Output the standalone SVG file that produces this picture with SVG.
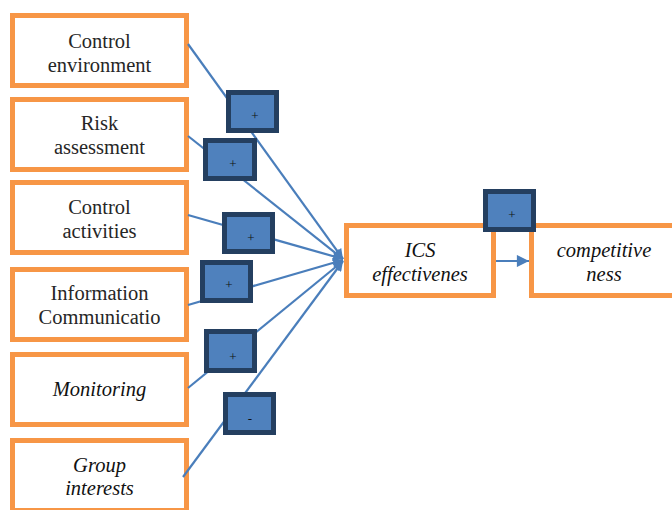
<svg xmlns="http://www.w3.org/2000/svg" width="672" height="510" viewBox="0 0 672 510" font-family="Liberation Serif, Times New Roman, DejaVu Serif, serif">
<defs>
<style>
.node{fill:#ffffff;stroke:#f79646;stroke-width:5}
.t{font-size:20.5px;fill:#262626;text-anchor:middle}
.i{font-style:italic;fill:#111111}
.edge{stroke:#4a7ebb;stroke-width:2.2;fill:none}
.sign rect{fill:#4f81bd;stroke:#243f60;stroke-width:5}
.sign text{font-size:13px;fill:#111;text-anchor:middle}
</style>
<marker id="ah" viewBox="0 0 10 10" refX="10" refY="5" markerWidth="5" markerHeight="4.5" markerUnits="strokeWidth" orient="auto">
<path d="M0,0 L10,5 L0,10 z" fill="#4a7ebb"/>
</marker>
<marker id="ah2" viewBox="0 0 10 10" refX="10" refY="5" markerWidth="6" markerHeight="5.5" markerUnits="strokeWidth" orient="auto">
<path d="M0,0 L10,5 L0,10 z" fill="#4a7ebb"/>
</marker>
</defs>
<rect width="672" height="510" fill="#ffffff"/>

<g id="n1"><rect class="node" x="12.5" y="15.5" width="174" height="70"/><text class="t" x="99.5" y="48">Control</text><text class="t" x="99.5" y="72">environment</text></g>
<g id="n2"><rect class="node" x="12.5" y="99.5" width="174" height="70"/><text class="t" x="99.5" y="130">Risk</text><text class="t" x="99.5" y="154">assessment</text></g>
<g id="n3"><rect class="node" x="12.5" y="182.5" width="174" height="70"/><text class="t" x="99.5" y="214">Control</text><text class="t" x="99.5" y="238">activities</text></g>
<g id="n4"><rect class="node" x="12.5" y="269.5" width="174" height="70"/><text class="t" x="99.5" y="300">Information</text><text class="t" x="99.5" y="324">Communicatio</text></g>
<g id="n5"><rect class="node" x="12.5" y="354.5" width="174" height="70"/><text class="t i" x="99.5" y="396">Monitoring</text></g>
<g id="n6"><rect class="node" x="12.5" y="440.5" width="174" height="70"/><text class="t i" x="99.5" y="472">Group</text><text class="t i" x="99.5" y="495">interests</text></g>
<g id="ics"><rect class="node" x="346.5" y="225.5" width="147" height="70"/><text class="t i" x="420" y="257">ICS</text><text class="t i" x="420" y="281">effectivenes</text></g>
<g id="comp"><rect class="node" x="531.5" y="225.5" width="150" height="70"/><text class="t i" x="604" y="257">competitive</text><text class="t i" x="604" y="281">ness</text></g>

<g id="connectors">
<line class="edge" x1="188" y1="44" x2="343" y2="259" marker-end="url(#ah)"/>
<line class="edge" x1="188" y1="136" x2="343" y2="259" marker-end="url(#ah)"/>
<line class="edge" x1="188" y1="215" x2="343" y2="259" marker-end="url(#ah)"/>
<line class="edge" x1="188" y1="305" x2="343" y2="260" marker-end="url(#ah)"/>
<line class="edge" x1="188" y1="388" x2="343" y2="261" marker-end="url(#ah)"/>
<line class="edge" x1="183" y1="477" x2="343" y2="261" marker-end="url(#ah)"/>
<line class="edge" x1="496" y1="261" x2="529" y2="261" marker-end="url(#ah2)"/>
</g>

<g id="labels">
<g class="sign" id="s1"><rect x="228.5" y="92.5" width="48" height="38"/><text x="255" y="120">+</text></g>
<g class="sign" id="s2"><rect x="205.5" y="140.5" width="49" height="38"/><text x="233" y="168">+</text></g>
<g class="sign" id="s3"><rect x="224.5" y="214.5" width="48" height="37"/><text x="251" y="242">+</text></g>
<g class="sign" id="s4"><rect x="202.5" y="262.5" width="48" height="38"/><text x="229" y="289">+</text></g>
<g class="sign" id="s5"><rect x="206.5" y="331.5" width="48" height="39"/><text x="233" y="361">+</text></g>
<g class="sign" id="s6"><rect x="225.5" y="394.5" width="48" height="38"/><text x="250" y="423">-</text></g>
<g class="sign" id="s7"><rect x="485.5" y="191.5" width="48" height="38"/><text x="512" y="219">+</text></g>
</g>
</svg>
